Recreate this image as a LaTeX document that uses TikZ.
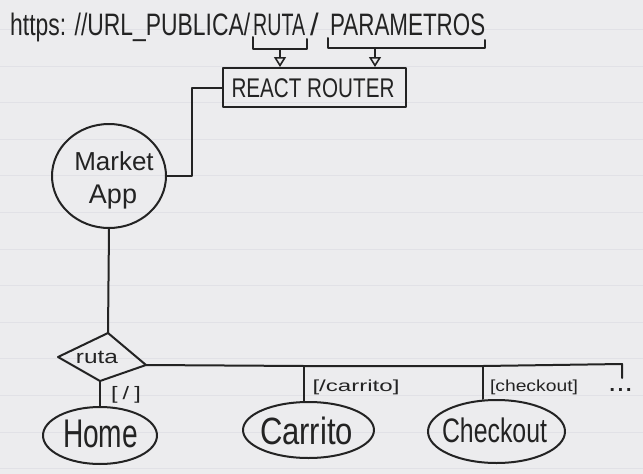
\documentclass[tikz,border=0pt]{standalone}
\usepackage{fontspec}
\setmainfont{Liberation Sans}
\usetikzlibrary{shapes.geometric,arrows.meta}
\definecolor{paper}{RGB}{236,236,238}
\definecolor{ruleline}{RGB}{225,225,230}
\definecolor{ink}{RGB}{35,35,35}
\newcommand\fitw[3]{\resizebox{#1pt}{\height}{\fontsize{#2}{#2}\selectfont #3}}
\begin{document}
\begin{tikzpicture}[x=1pt,y=-1pt,
  pen/.style={draw=ink, line width=2pt, line cap=round, line join=round},
  txt/.style={inner sep=0pt, anchor=base west, text=ink},
  ctxt/.style={inner sep=0pt, anchor=base, text=ink},
  mtxt/.style={inner sep=0pt, anchor=center, text=ink},
  ell/.style={pen, ellipse, inner sep=0pt},
  tip/.style={-{Triangle[open, width=12pt, length=10pt, line width=1.6pt]}}
]
\fill[paper] (0,0) rectangle (643,474);
\useasboundingbox (0,0) rectangle (643,474);
\foreach \k in {0,...,12} \draw[ruleline, line width=1pt] (0,29.5+36.6*\k) -- (643,29.5+36.6*\k);

% URL text
\node[txt] (url1) at (10,35) {\fitw{240}{31}{https: //URL\_PUBLICA/}};
\node[txt] (url2) at (253,35) {\fitw{52}{31}{RUTA}};
\node[txt] (url3) at (310,35) {\fontsize{31}{31}\selectfont /};
\node[txt] (url4) at (330,35) {\fitw{155}{31}{PARAMETROS}};

% brackets
\coordinate (r1a) at (253,37);
\coordinate (r1b) at (253,49);
\coordinate (r1c) at (307,49);
\coordinate (r1d) at (307,39);
\coordinate (r1m) at (280,49);
\coordinate (p1a) at (328,38);
\coordinate (p1b) at (328,48);
\coordinate (p1c) at (485,48);
\coordinate (p1d) at (485,40);
\coordinate (p1m) at (375,48);
\draw[pen] (r1a) -- (r1b) -- (r1c) -- (r1d);
\draw[pen] (p1a) -- (p1b) -- (p1c) -- (p1d);

% router
\node[pen, rectangle, minimum width=183pt, minimum height=39pt, inner sep=0pt] (router) at (314.5,87.5) {};
\node[ctxt] (routertxt) at (313,97) {\fitw{163}{27}{REACT ROUTER}};
\draw[pen, tip] (r1m) -- (r1m |- router.north);
\draw[pen, tip] (p1m) -- (p1m |- router.north);

% market app
\node[ell, minimum width=114pt, minimum height=104pt] (market) at (109,176) {};
\node[ctxt] (mk1) at (114,170) {\fontsize{26}{26}\selectfont Market};
\node[ctxt] (mk2) at (113,203) {\fontsize{27}{27}\selectfont App};
\draw[pen] (router.west) -- ++(-30,0) |- (market.east);

% decision diamond
\coordinate (dtop) at (108,333);
\coordinate (dleft) at (58,357);
\coordinate (dbot) at (100,381);
\coordinate (dright) at (146,365);
\draw[pen] (dtop) -- (dright) -- (dbot) -- (dleft) -- cycle;
\node[ctxt] (ruta) at (97,363) {\fitw{42}{19}{ruta}};
\draw[pen] (market.south) -- (dtop);

% pages
\node[ell, minimum width=114pt, minimum height=57pt] (home) at (100,435.5) {};
\node[ell, minimum width=131pt, minimum height=56pt] (carrito) at (308.5,430) {};
\node[ell, minimum width=137pt, minimum height=63pt] (checkout) at (496.5,431.5) {};
\node[ctxt] (hometxt) at (100.5,447) {\fitw{75}{40}{Home}};
\node[ctxt] (carritotxt) at (306.5,444) {\fitw{93}{38}{Carrito}};
\node[ctxt] (checkouttxt) at (494.5,442) {\fitw{105}{34}{Checkout}};

% bus
\coordinate (jc) at (304,366);
\coordinate (jk) at (483,366);
\coordinate (bend) at (622,364);
\coordinate (bdrop) at (622,378);
\draw[pen] (dright) -- (jc) -- (jk) -- (bend) -- (bdrop);
\draw[pen] (dbot) -- (dbot |- home.north);
\draw[pen] (jc) -- (jc |- carrito.north);
\draw[pen] (jk) -- (jk |- checkout.north);

% labels
\node[mtxt] (lhome) at (126,395) {\fitw{30}{18}{[\kern4pt/\kern4pt]}};
\node[mtxt] (lcarrito) at (356,387.5) {\fitw{87}{16}{[/carrito]}};
\node[mtxt] (lcheckout) at (534,387) {\fitw{88}{16}{[checkout]}};
\node[ctxt] (ldots) at (620.5,391) {\fitw{25}{28}{...}};
\end{tikzpicture}
\end{document}
